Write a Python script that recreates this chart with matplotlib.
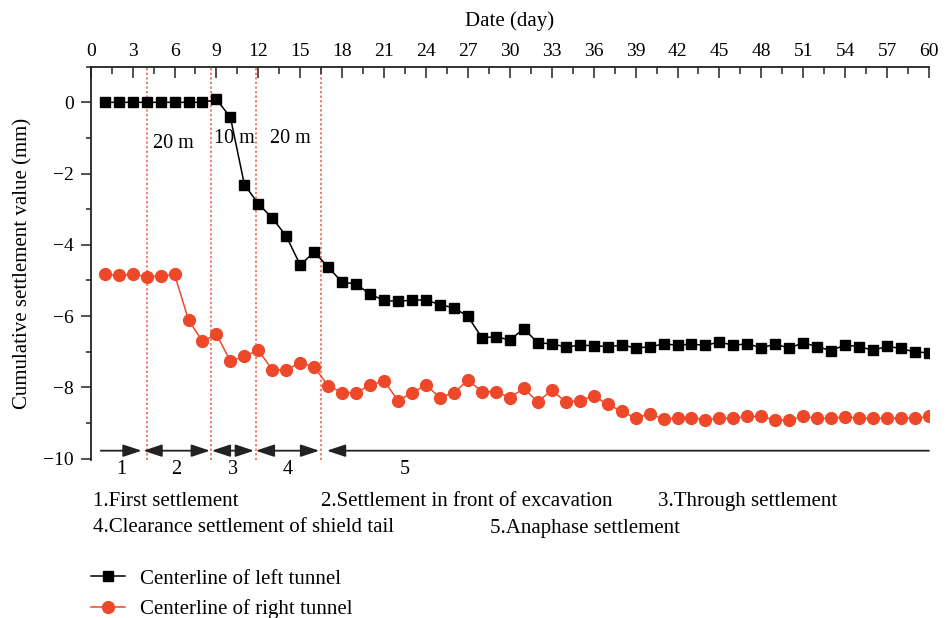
import matplotlib.pyplot as plt
from matplotlib.ticker import MultipleLocator

plt.rcParams["font.family"] = ["Liberation Serif", "DejaVu Serif"]
plt.rcParams["font.size"] = 15

days = list(range(1, 61))

left_tunnel = [
    0, 0, 0, 0, 0, 0, 0, 0, 0.08, -0.42,
    -2.31, -2.85, -3.25, -3.76, -4.57, -4.20, -4.63, -5.05, -5.10, -5.39,
    -5.56, -5.59, -5.55, -5.55, -5.68, -5.77, -6.01, -6.61, -6.58, -6.67,
    -6.36, -6.75, -6.78, -6.87, -6.82, -6.83, -6.86, -6.82, -6.89, -6.87,
    -6.78, -6.82, -6.79, -6.82, -6.73, -6.82, -6.78, -6.89, -6.79, -6.90,
    -6.75, -6.86, -6.97, -6.81, -6.86, -6.96, -6.85, -6.91, -7.01, -7.03,
]

right_tunnel = [
    -4.83, -4.86, -4.83, -4.89, -4.88, -4.83, -6.11, -6.71, -6.51, -7.27,
    -7.13, -6.96, -7.51, -7.51, -7.31, -7.43, -7.96, -8.15, -8.15, -7.94,
    -7.82, -8.38, -8.15, -7.94, -8.29, -8.15, -7.80, -8.12, -8.12, -8.29,
    -8.03, -8.41, -8.08, -8.41, -8.38, -8.24, -8.48, -8.67, -8.87, -8.74,
    -8.90, -8.85, -8.85, -8.91, -8.87, -8.87, -8.82, -8.82, -8.92, -8.92,
    -8.82, -8.87, -8.87, -8.83, -8.87, -8.87, -8.87, -8.87, -8.87, -8.82,
]

# stage boundaries (day) and the arrow spans between them
boundaries = [4.05, 8.6, 11.85, 16.45]
stage_spans = [(0.72, 3.65), (3.77, 8.54), (8.66, 11.69), (11.81, 16.36), (16.9, 60.0)]
stage_styles = ["-|>", "<|-|>", "<|-|>", "<|-|>", "<|-"]
stage_ids = ["1", "2", "3", "4", "5"]
stage_id_x = [2.17, 6.1, 10.2, 14.1, 22.5]

distance_labels = ["20 m", "10 m", "20 m"]
distance_x = [5.95, 10.25, 14.3]
distance_y = [-1.15, -1.02, -1.02]

stage_notes = [
    "1.First settlement", "2.Settlement in front of excavation", "3.Through settlement",
    "4.Clearance settlement of shield tail", "5.Anaphase settlement",
]
note_x = [92.7, 320.7, 658, 92.7, 490]
note_y = [501.5, 501.5, 501.5, 528, 528]

RED = "#ee482a"
W, H = 950, 618

fig = plt.figure(figsize=(9.5, 6.18), dpi=100)
ax = fig.add_axes([90.7 / W, 1 - 460.3 / H, (929 - 90.7) / W, (460.3 - 66.7) / H])

for b in boundaries:
    ax.axvline(b, color=RED, lw=1.1, ls=(0, (1.5, 1.5)), alpha=0.9, zorder=1)

l1, = ax.plot(days, left_tunnel, color="black", lw=1.1, marker="s", ms=7.5,
              label="Centerline of left tunnel", zorder=3)
l2, = ax.plot(days, right_tunnel, color=RED, lw=1.1, marker="o", ms=8.5,
              label="Centerline of right tunnel", zorder=3)

for (x0, x1), style in zip(stage_spans, stage_styles):
    ax.annotate("", xy=(x1, -9.78), xytext=(x0, -9.78),
                arrowprops=dict(arrowstyle=style + ",head_length=0.75,head_width=0.25",
                                color="#222222", lw=1.3, shrinkA=0, shrinkB=0))
for x, t in zip(stage_id_x, stage_ids):
    ax.text(x, -10.3, t, ha="center", va="center", fontsize=14.5, clip_on=False)

for x, y, t in zip(distance_x, distance_y, distance_labels):
    ax.text(x, y, t, ha="center", va="center", fontsize=14.5)

ax.set_xlim(0, 60)
ax.set_ylim(-10.05, 1.0)
ax.xaxis.tick_top()
ax.xaxis.set_label_position("top")
ax.xaxis.set_major_locator(MultipleLocator(3))
ax.xaxis.set_minor_locator(MultipleLocator(1.5))
ax.yaxis.set_major_locator(MultipleLocator(2))
ax.yaxis.set_minor_locator(MultipleLocator(1))
ax.tick_params(axis="x", which="both", direction="in", color="#222222", width=1.1,
               pad=5, labelsize=14)
ax.tick_params(axis="x", which="major", length=8)
ax.tick_params(axis="x", which="minor", length=5)
ax.tick_params(axis="y", which="both", direction="out", color="#222222", width=1.1,
               pad=5, labelsize=14)
ax.tick_params(axis="y", which="major", length=7)
ax.tick_params(axis="y", which="minor", length=3.5)
for side in ("right", "bottom"):
    ax.spines[side].set_visible(False)
for side in ("left", "top"):
    ax.spines[side].set_linewidth(1.3)
    ax.spines[side].set_color("#222222")

ax.set_xlabel("Date (day)", labelpad=12)
ax.set_ylabel("Cumulative settlement value (mm)", labelpad=8)

for x, y, t in zip(note_x, note_y, stage_notes):
    fig.text(x / W, 1 - y / H, t, ha="left", va="center")

fig.legend(handles=[l1, l2], loc="upper left", bbox_to_anchor=(90.7 / W, 1 - 569 / H),
           frameon=False, borderpad=0, borderaxespad=0, handlelength=1.65,
           handletextpad=0.7, labelspacing=0.5, fontsize=15)

fig.savefig("out.png", dpi=100)
